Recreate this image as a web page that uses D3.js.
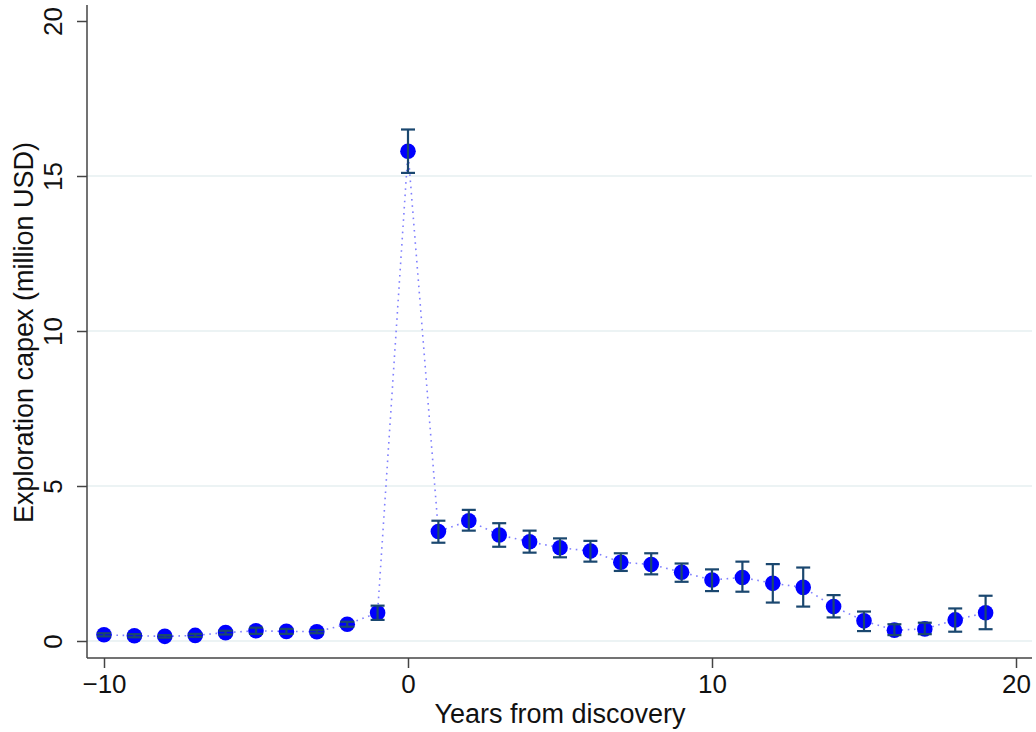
<!DOCTYPE html>
<html>
<head>
<meta charset="utf-8">
<script src="https://cdn.jsdelivr.net/npm/d3@7"></script>
<style>
  body { margin: 0; background: #fff; }
  svg text { font-family: "Liberation Sans", Arial, sans-serif; fill: #111; }
</style>
</head>
<body>
<div id="chart"></div>
<script>
// Event-time estimates
const years = [-10, -9, -8, -7, -6, -5, -4, -3, -2, -1, 0, 1, 2, 3, 4, 5, 6, 7, 8, 9, 10, 11, 12, 13, 14, 15, 16, 17, 18, 19];
const coef  = [0.20, 0.17, 0.15, 0.18, 0.27, 0.33, 0.31, 0.30, 0.54, 0.91, 15.80, 3.53, 3.88, 3.42, 3.20, 3.01, 2.90, 2.54, 2.47, 2.22, 1.97, 2.05, 1.86, 1.73, 1.11, 0.65, 0.35, 0.39, 0.68, 0.91];
const ciLow = [0.15, 0.12, 0.11, 0.13, 0.21, 0.23, 0.23, 0.25, 0.46, 0.68, 15.10, 3.17, 3.56, 3.04, 2.85, 2.70, 2.56, 2.26, 2.15, 1.91, 1.61, 1.59, 1.24, 1.11, 0.76, 0.32, 0.19, 0.22, 0.30, 0.38];
const ciHigh = [0.25, 0.22, 0.19, 0.23, 0.33, 0.43, 0.39, 0.35, 0.62, 1.14, 16.50, 3.88, 4.23, 3.80, 3.56, 3.31, 3.23, 2.83, 2.83, 2.50, 2.31, 2.56, 2.48, 2.37, 1.48, 0.95, 0.54, 0.59, 1.05, 1.46];
const xTicks = [-10, 0, 10, 20];
const yTicks = [0, 5, 10, 15, 20];

const data = years.map((t, i) => ({ t: t, b: coef[i], lo: ciLow[i], hi: ciHigh[i] }));

const W = 1036, H = 732;
const svg = d3.select("#chart").append("svg")
  .attr("width", W)
  .attr("height", H);

// Scales
const x = d3.scaleLinear().domain([-10, 20]).range([104, 1016]);
const y = d3.scaleLinear().domain([0, 20]).range([641, 21]);

const axisX = 87;   // y-axis position
const axisY = 658;  // x-axis position
const right = 1032;

// Gridlines
svg.selectAll(".grid")
  .data(yTicks.filter(d => d < 20))
  .enter()
  .append("line")
  .attr("class", "grid")
  .attr("x1", axisX)
  .attr("x2", right)
  .attr("y1", d => y(d))
  .attr("y2", d => y(d))
  .attr("stroke", "#e6eff1")
  .attr("stroke-width", 1.5);

// Y axis
const yAxis = svg.append("g")
  .attr("transform", `translate(${axisX},0)`)
  .call(d3.axisLeft(y).tickValues(yTicks).tickSize(10).tickPadding(0).tickFormat(d3.format("d")));
yAxis.select(".domain").attr("d", `M0,5V${axisY}`).attr("stroke", "#444").attr("stroke-width", 1.5);
yAxis.selectAll(".tick line").attr("stroke", "#444").attr("stroke-width", 1.5);
yAxis.selectAll(".tick text")
  .attr("x", 0).attr("y", 0).attr("dy", 0)
  .attr("transform", "translate(-25,0) rotate(-90)")
  .attr("text-anchor", "middle")
  .style("font-size", "26px")
  .style("fill", "#111");

// X axis
const xAxis = svg.append("g")
  .attr("transform", `translate(0,${axisY})`)
  .call(d3.axisBottom(x).tickValues(xTicks).tickSize(10).tickFormat(d3.format("d")));
xAxis.select(".domain").attr("d", `M${axisX},0H${right}`).attr("stroke", "#444").attr("stroke-width", 1.5);
xAxis.selectAll(".tick line").attr("stroke", "#444").attr("stroke-width", 1.5);
xAxis.selectAll(".tick text")
  .attr("y", 35).attr("dy", 0)
  .style("font-size", "26px")
  .style("fill", "#111");

// Axis titles
svg.append("text")
  .attr("x", 560)
  .attr("y", 723)
  .attr("text-anchor", "middle")
  .style("font-size", "27px")
  .text("Years from discovery");

svg.append("text")
  .attr("transform", `translate(33,${(142 + 523) / 2}) rotate(-90)`)
  .attr("text-anchor", "middle")
  .style("font-size", "27px")
  .text("Exploration capex (million USD)");

// Connecting dotted line
const line = d3.line()
  .x(d => x(d.t))
  .y(d => y(d.b));

svg.append("path")
  .datum(data)
  .attr("fill", "none")
  .attr("stroke", "#7f7fff")
  .attr("stroke-width", 1.6)
  .attr("stroke-dasharray", "1.6,4.6")
  .attr("d", line);

// Markers
svg.selectAll(".dot")
  .data(data)
  .enter()
  .append("circle")
  .attr("class", "dot")
  .attr("cx", d => x(d.t))
  .attr("cy", d => y(d.b))
  .attr("r", 7.8)
  .attr("fill", "#0000ff");

// Error bars
const cap = 7;
const bars = svg.selectAll(".ci")
  .data(data)
  .enter()
  .append("g")
  .attr("class", "ci")
  .attr("stroke", "#1a476f")
  .attr("stroke-width", 2.2);

bars.append("line")
  .attr("x1", d => x(d.t)).attr("x2", d => x(d.t))
  .attr("y1", d => y(d.lo)).attr("y2", d => y(d.hi));
bars.append("line")
  .attr("x1", d => x(d.t) - cap).attr("x2", d => x(d.t) + cap)
  .attr("y1", d => y(d.hi)).attr("y2", d => y(d.hi));
bars.append("line")
  .attr("x1", d => x(d.t) - cap).attr("x2", d => x(d.t) + cap)
  .attr("y1", d => y(d.lo)).attr("y2", d => y(d.lo));
</script>
</body>
</html>
